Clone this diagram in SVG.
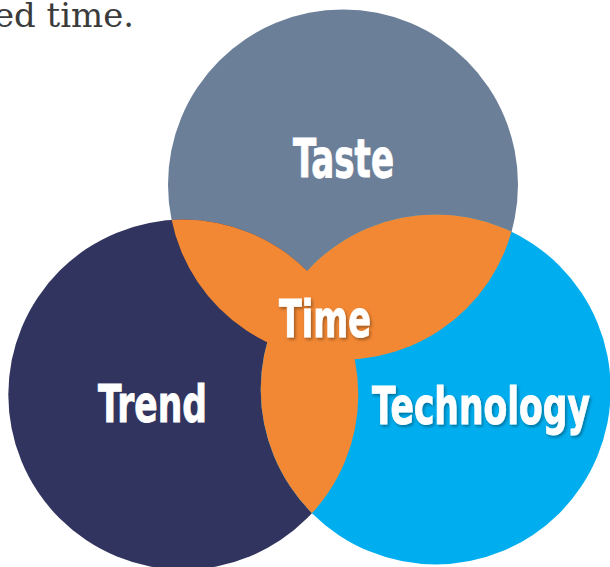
<svg xmlns="http://www.w3.org/2000/svg" width="610" height="567" viewBox="0 0 610 567">
  <style>
    .label { font-family: "Liberation Sans Narrow", "DejaVu Sans Condensed", "DejaVu Sans", sans-serif; font-weight: bold; font-stretch: condensed; fill: #ffffff; stroke: #ffffff; stroke-width: 0.9; paint-order: stroke; text-anchor: start; }
    .caption { font-family: "DejaVu Serif", "Liberation Serif", serif; font-size: 33px; fill: #3b3b3b; }
  </style>
  <defs>
    <clipPath id="clip-taste"><circle cx="343" cy="184.5" r="175"/></clipPath>
    <clipPath id="clip-trend"><circle cx="183.3" cy="394.6" r="175"/></clipPath>
    <filter id="lift" x="-20%" y="-30%" width="140%" height="170%">
      <feDropShadow dx="1.5" dy="2" stdDeviation="1.8" flood-color="#000000" flood-opacity="0.35"/>
    </filter>
  </defs>

  <rect width="610" height="567" fill="#ffffff"/>

  <!-- tail of the preceding sentence -->
  <text class="caption" x="-6" y="27" textLength="140" lengthAdjust="spacingAndGlyphs">ed time.</text>

  <g id="taste">
    <circle cx="343" cy="184.5" r="175" fill="#6b7f99"/>
    <text class="label" x="293" y="177" font-size="54" textLength="101" lengthAdjust="spacingAndGlyphs">Taste</text>
  </g>

  <g id="trend">
    <circle cx="183.3" cy="394.6" r="175" fill="#31345e"/>
    <text class="label" x="98" y="422" font-size="52" textLength="109" lengthAdjust="spacingAndGlyphs">Trend</text>
  </g>

  <g id="technology">
    <circle cx="435.7" cy="389.4" r="175" fill="#00aeef"/>
    <text class="label" x="372" y="424" font-size="52" textLength="218" lengthAdjust="spacingAndGlyphs" filter="url(#lift)">Technology</text>
  </g>

  <!-- pairwise overlaps, all in the shared accent colour -->
  <g id="time">
    <circle cx="183.3" cy="394.6" r="175" fill="#f28834" clip-path="url(#clip-taste)"/>
    <circle cx="435.7" cy="389.4" r="175" fill="#f28834" clip-path="url(#clip-taste)"/>
    <circle cx="435.7" cy="389.4" r="175" fill="#f28834" clip-path="url(#clip-trend)"/>
    <text class="label" x="279" y="337" font-size="52" textLength="92" lengthAdjust="spacingAndGlyphs" filter="url(#lift)">Time</text>
  </g>

  <g id="connectors"/>
</svg>
